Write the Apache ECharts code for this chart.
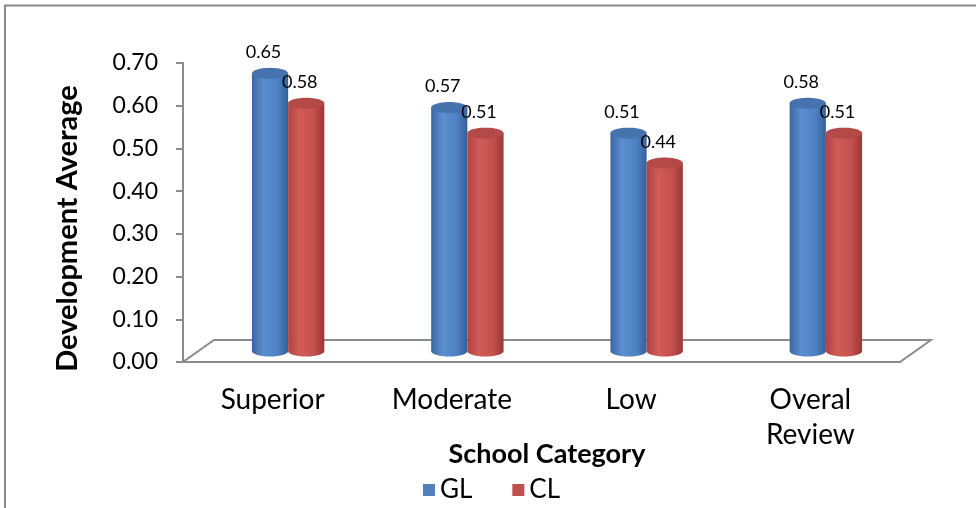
<!DOCTYPE html>
<html>
<head>
<meta charset="utf-8">
<script src="https://cdn.jsdelivr.net/npm/echarts@6/dist/echarts.min.js"></script>
<style>
  html, body { margin: 0; padding: 0; background: #fff; }
  #chart { width: 976px; height: 508px; }
</style>
</head>
<body>
<div id="chart"></div>
<script>
// School categories and development averages per group
const categories = ['Superior', 'Moderate', 'Low', 'Overal Review'];
const glValues = [0.65, 0.57, 0.51, 0.58];
const clValues = [0.58, 0.51, 0.44, 0.51];
const seriesNames = ['GL', 'CL'];
const yMin = 0, yMax = 0.7, yStep = 0.1;

// 3D look: floor depth and cylinder styling
const FLOOR_DX = 31, FLOOR_DY = -22;
const MID_DX = FLOOR_DX / 2, MID_DY = FLOOR_DY / 2;
const ELLIPSE_RY = 5.5;
const FONT = 'Lato, "Open Sans", sans-serif';

const palettes = [
  { base: '#4F81BD', top: '#4673ad',
    stops: ['#3a66a0', '#5b8fd1', '#4f82c2', '#34609a'] },
  { base: '#C0504D', top: '#b34a47',
    stops: ['#ad4441', '#d25b57', '#c4514e', '#983835'] }
];

function ellipsePoints(cx, cy, rx, ry, a0, a1, n) {
  const pts = [];
  for (let i = 0; i <= n; i++) {
    const a = a0 + (a1 - a0) * i / n;
    pts.push([cx + rx * Math.cos(a), cy + ry * Math.sin(a)]);
  }
  return pts;
}

function cylinderRenderer(idx) {
  const pal = palettes[idx];
  return function (params, api) {
    const catIndex = api.value(0);
    const val = api.value(1);
    const base = api.coord([catIndex, 0]);
    const top = api.coord([catIndex, val]);
    const catW = api.size([1, 0])[0];
    const barW = catW * 0.202;
    const rx = barW / 2;
    const cx = base[0] + MID_DX + (idx === 0 ? -rx : rx);
    const yb = base[1] + MID_DY;
    const yt = top[1] + MID_DY;

    // body: left side, bottom half-ellipse, right side
    const body = [[cx - rx, yt]]
      .concat(ellipsePoints(cx, yb, rx, ELLIPSE_RY, Math.PI, 0, 30))
      .concat([[cx + rx, yt]]);
    const topCap = ellipsePoints(cx, yt, rx, ELLIPSE_RY, 0, Math.PI * 2, 48);

    const grad = new echarts.graphic.LinearGradient(0, 0, 1, 0, [
      { offset: 0, color: pal.stops[0] },
      { offset: 0.32, color: pal.stops[1] },
      { offset: 0.7, color: pal.stops[2] },
      { offset: 1, color: pal.stops[3] }
    ]);

    return {
      type: 'group',
      children: [
        { type: 'polygon', shape: { points: body }, style: { fill: grad } },
        { type: 'polygon', shape: { points: topCap }, style: { fill: pal.top } },
        {
          type: 'text',
          x: cx - 6.5, y: yt - 21,
          style: {
            text: val.toFixed(2),
            align: 'center', verticalAlign: 'middle',
            font: '18px ' + FONT, fill: '#000'
          }
        }
      ]
    };
  };
}

function floorRenderer(params) {
  const g = params.coordSys;
  const x0 = g.x, x1 = g.x + g.width, y0 = g.y + g.height;
  return {
    type: 'polygon',
    shape: {
      points: [
        [x0, y0], [x1, y0],
        [x1 + FLOOR_DX, y0 + FLOOR_DY], [x0 + FLOOR_DX, y0 + FLOOR_DY]
      ]
    },
    style: { fill: 'none', stroke: '#8c8c8c', lineWidth: 2 }
  };
}

const chart = echarts.init(document.getElementById('chart'), null, { renderer: 'canvas' });

chart.setOption({
  animation: false,
  backgroundColor: '#fff',
  graphic: [{
    type: 'rect',
    shape: { x: 5, y: 5.5, width: 1200, height: 800 },
    style: { fill: 'none', stroke: '#878787', lineWidth: 2 },
    silent: true
  }],
  grid: { left: 183, right: 76, top: 63, bottom: 146 },
  legend: {
    data: seriesNames,
    left: 418, top: 472,
    icon: 'rect', itemWidth: 12, itemHeight: 12, itemGap: 40,
    textStyle: { fontFamily: FONT, fontSize: 26, color: '#000' }
  },
  xAxis: {
    type: 'category',
    data: categories,
    axisLine: { show: false },
    axisTick: { show: false },
    axisLabel: {
      margin: 20, fontFamily: FONT, fontSize: 28, color: '#000', lineHeight: 35,
      formatter: v => v.replace(' ', '\n')
    },
    name: 'School Category',
    nameLocation: 'middle',
    nameMoveOverlap: false,
    nameGap: 79,
    nameTextStyle: {
      fontFamily: FONT, fontSize: 27, fontWeight: 'bold', color: '#000',
      padding: [0, 0, 0, 11]
    }
  },
  yAxis: {
    type: 'value',
    min: yMin, max: yMax, interval: yStep,
    axisLine: { show: true, lineStyle: { color: '#8c8c8c', width: 2 } },
    axisTick: { show: true, length: 7, lineStyle: { color: '#8c8c8c', width: 2 } },
    splitLine: { show: false },
    axisLabel: {
      margin: 25, fontFamily: FONT, fontSize: 23, color: '#000',
      formatter: v => v.toFixed(2)
    },
    name: 'Development Average',
    nameLocation: 'middle',
    nameMoveOverlap: false,
    nameGap: 101,
    nameTextStyle: {
      fontFamily: FONT, fontSize: 29, fontWeight: 'bold', color: '#000',
      padding: [0, 32, 0, 0]
    }
  },
  series: [
    {
      name: 'floor', type: 'custom', z: 1, silent: true,
      renderItem: floorRenderer, data: [[0, 0]]
    },
    {
      name: seriesNames[0], type: 'custom', z: 2,
      itemStyle: { color: palettes[0].base },
      renderItem: cylinderRenderer(0),
      data: glValues.map((v, i) => [i, v])
    },
    {
      name: seriesNames[1], type: 'custom', z: 3,
      itemStyle: { color: palettes[1].base },
      renderItem: cylinderRenderer(1),
      data: clValues.map((v, i) => [i, v])
    }
  ]
});
</script>
</body>
</html>
